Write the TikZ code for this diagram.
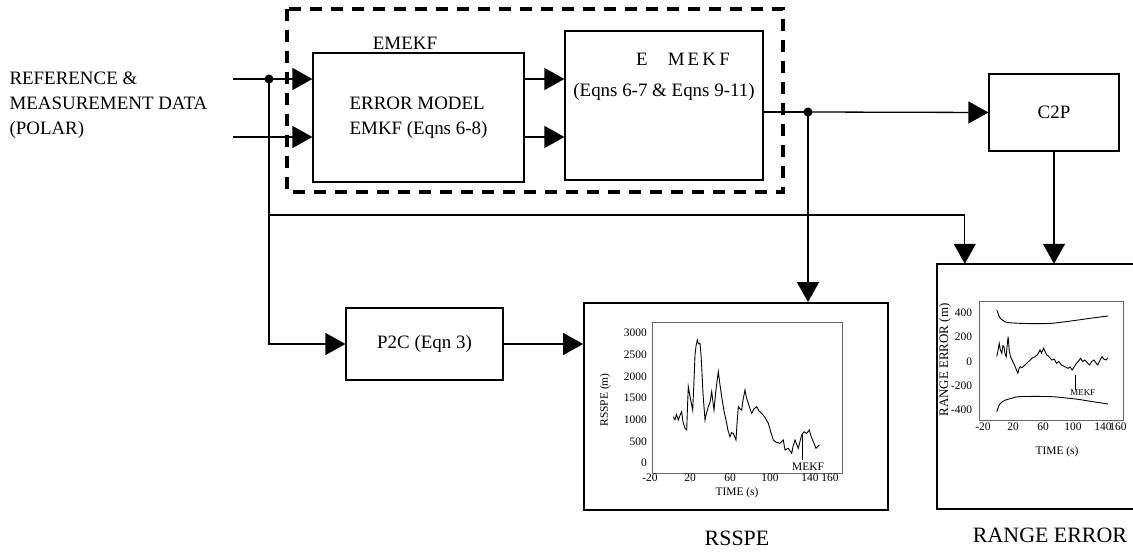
\documentclass[tikz,border=0pt]{standalone}
\usepackage{fontspec}
\setmainfont{Liberation Serif}
\usetikzlibrary{arrows.meta,positioning}
\newcommand{\maintxt}{\fontsize{19}{25}\selectfont}
\tikzset{>={Triangle[length=20bp,width=22bp]}}
\tikzset{
  block/.style = {draw, line width=1.2bp, inner sep=0pt, font=\maintxt},
  outerbox/.style = {draw, line width=1.8bp, inner sep=0pt},
  wire/.style = {line width=1.3bp},
  joint/.style = {circle, fill, inner sep=0pt, minimum size=9bp},
  plotbox/.style = {draw=black!60, line width=0.8bp},
  ticklab/.style = {font=\fontsize{11.5}{12}\selectfont, inner sep=1bp},
  caption/.style = {font=\fontsize{22}{24}\selectfont}
}

\begin{document}
\begin{tikzpicture}[x=1bp,y=-1bp]
  \useasboundingbox (0,0) rectangle (1133,558);
  % input text
  \node (refdata) [anchor=west, align=left, font=\maintxt] at (6,105)
    {REFERENCE \&\\MEASUREMENT DATA\\(POLAR)};
  % filter blocks
  \draw[line width=3.2bp, dash pattern=on 12bp off 9bp] (287,9) rectangle (783,192);
  \node (emekf) [font=\maintxt] at (405,43) {EMEKF};
  \node (emkf) [block, align=left, minimum width=211bp, minimum height=129bp]
    at (418.5,117.5) {ERROR MODEL\\EMKF (Eqns 6-8)};
  \node (mekf) [block, minimum width=198bp, minimum height=149bp] at (664,105.5) {};
  \node (mekftxt) [below=23bp of mekf.north, align=center, inner sep=0pt,
    font=\fontsize{19}{31}\selectfont]
    {\hspace*{38bp}E\hspace{20bp}M\,E\,K\,F\\(Eqns 6-7 \& Eqns 9-11)};
  \node (c2p) [block, minimum width=130bp, minimum height=77bp] at (1054,112.5) {C2P};
  \node (p2c) [block, minimum width=157bp, minimum height=72bp] at (424.5,344) {P2C (Eqn 3)};
  % result boxes
  \node (rsspe) [outerbox, minimum width=304bp, minimum height=207bp] at (736,406.5) {};
  \node (rangeerr) [inner sep=0pt, minimum width=196bp, minimum height=245bp] at (1035,386.5) {};
  \draw[line width=1.8bp] (rangeerr.north east) -- (rangeerr.north west)
    -- (rangeerr.south west) -- (rangeerr.south east);
  \node (rsspecap) [caption] at (737,538) {RSSPE};
  \node (rangecap) [caption] at (1050,535) {RANGE ERROR};
  % connectors
  \coordinate (in1) at (233,79);
  \coordinate (in2) at (233,137);
  \node (split1) [joint] at (269,79) {};
  \node (split2) [joint] at (808,112) {};
  \coordinate (bypass) at (269,215);
  \draw[wire,->] (in1) -- (in1 -| emkf.west);
  \draw[wire,->] (in2) -- (in2 -| emkf.west);
  \draw[wire,->] (in1 -| emkf.east) -- (in1 -| mekf.west);
  \draw[wire,->] (in2 -| emkf.east) -- (in2 -| mekf.west);
  \draw[wire,->] (split1.center) |- (p2c.west);
  \draw[wire,->] (p2c.east) -- (p2c.east -| rsspe.west);
  \draw[wire,->] (bypass) -| ([xshift=28bp]rangeerr.north west);
  \draw[wire] (split2 -| mekf.east) -- (split2.center);
  \draw[wire,->] (split2.center) -- (c2p.west);
  \draw[wire,->] (split2.center) -- (split2 |- rsspe.north);
  \draw[wire,->] (c2p.south) -- (c2p.south |- rangeerr.north);
  % rsspe plot
  \begin{scope}[shift={(670,463)}, x=1bp, y=0.04333bp]
    \draw[plotbox] (-18,-230) rectangle (172,3254);
    \foreach \v in {0,500,...,3000}
      \node (ry\v) [ticklab, anchor=east] at (-22,\v) {\v};
    \foreach \t in {-20,20,60,100,140,160}
      \node (rx\t) [ticklab, anchor=north] at (\t,-230) {\t};
    \node (rtime) [ticklab] at (67,-692) {TIME (s)};
    \node (rylab) [ticklab, rotate=90] at (-65,1454) {RSSPE (m)};
    \node (rmekf) [ticklab] at (138,-92) {MEKF};
    \draw[line width=0.7bp] (132.7,650) -- (132.7,60);
    \draw[line width=0.9bp] plot coordinates {
      (3.3,1069)(5,1000)(6.5,1120)(8.3,992)(10,1100)(11.7,1184)(13,950)(15,800)
      (16.7,762)(17.5,1300)(18.3,1761)(19.5,1600)(20.7,1454)(22.7,1223)(24,1900)
      (25,2492)(26,2700)(27.3,2839)(28.5,2750)(30,2763)(31,2500)(31.7,2223)
      (33,1600)(35,992)(36.5,1150)(38.3,1300)(40,1400)(41.7,1646)(43,1400)
      (44,1223)(46,1700)(48.3,2107)(50,1800)(51.7,1530)(54,1200)(56.7,916)
      (58,750)(60,607)(61.5,700)(63.3,685)(66,531)(67,900)(68.3,1300)(70,1250)
      (71.7,1223)(73,1450)(75,1685)(76.5,1500)(78.3,1378)(80,1250)(81.7,1147)
      (84,1250)(86.7,1300)(89,1200)(91.7,1147)(95,1050)(98.3,916)(101,700)
      (103.3,531)(106,480)(110,455)(113.3,531)(115,300)(118.3,339)(121.7,224)
      (123,380)(125,531)(128.3,339)(130,500)(131.7,646)(134,720)(136.7,685)
      (139.3,762)(141,620)(143.3,492)(146,339)(149.3,415)};
  \end{scope}
  % range error plot
  \begin{scope}[shift={(998,361.5)}, x=0.75bp, y=0.1213bp]
    \draw[plotbox] (-25.3,-482) rectangle (166.7,498.8);
    \foreach \v in {-400,-200,0,200,400}
      \node (ey\v) [ticklab, anchor=east] at (-33,\v) {\v};
    \foreach \t in {-20,20,60,100,140,160}
      \node (ex\t) [ticklab, anchor=north] at (\t,-500) {\t};
    \node (etime) [ticklab] at (78.7,-746) {TIME (s)};
    \node (eylab) [font=\fontsize{13}{14}\selectfont, inner sep=1bp, rotate=90]
      at (-70.7,12) {RANGE ERROR (m)};
    \node (emekflab) [font=\fontsize{9}{10}\selectfont, inner sep=1bp] at (113,-260) {MEKF};
    \draw[line width=0.7bp] (103,-111) -- (103,-235);
    \draw[line width=0.9bp] plot[smooth] coordinates {
      (-1.7,424)(0,400)(1.6,369)(4,350)(6,342)(10,325)(14.7,320)(27.8,315)
      (50,312)(71.7,315)(90,328)(106.8,342)(125,358)(146.5,375)};
    \draw[line width=0.9bp] plot[smooth] coordinates {
      (-1.7,-413)(0,-385)(1.6,-358)(5,-335)(10.4,-317)(20,-300)(27.8,-290)
      (50,-288)(71.7,-290)(90,-300)(106.8,-312)(125,-330)(146.5,-350)};
    \draw[line width=0.9bp] plot coordinates {
      (-1.7,40)(0,90)(1.6,150)(3,100)(5,68)(6.5,130)(8,122)(9.5,60)(11,40)
      (12,120)(13.5,205)(15,90)(16.6,40)(19,10)(21,-15)(24,-60)(26.5,-97)
      (28,-60)(29.5,-43)(32,-50)(36,-29)(39,-10)(43,12)(46,30)(49.5,40)(53,60)
      (56,95)(58,70)(60.7,109)(63,80)(65,54)(68,40)(71.7,12)(75,20)(78,-15)
      (81,0)(84.7,-29)(88,-40)(93.4,-56)(96,-45)(99,-70)(102,-40)(104.5,-15)
      (107,0)(110,26)(113,0)(115.7,12)(119,-10)(122,-29)(125,0)(128,12)
      (131,-15)(133,-29)(136,10)(138.7,40)(141,20)(144,12)(146.5,30)};
  \end{scope}
\end{tikzpicture}
\end{document}
